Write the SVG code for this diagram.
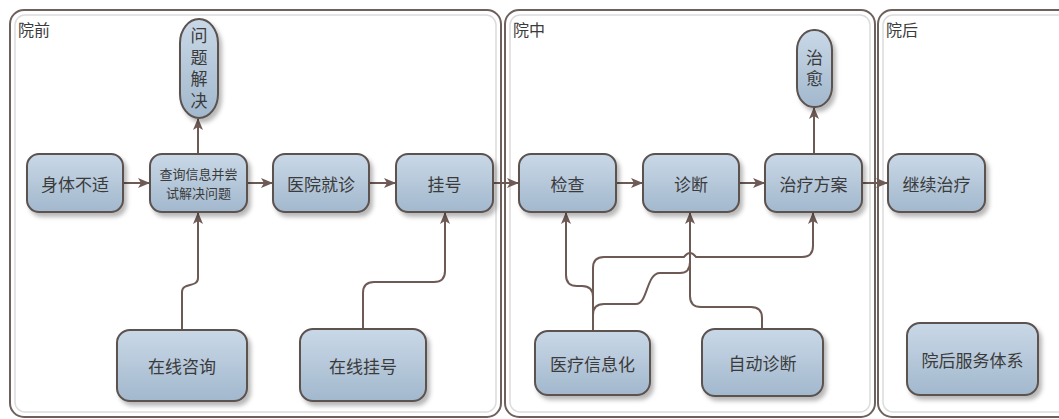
<svg xmlns="http://www.w3.org/2000/svg" width="1059" height="419" viewBox="0 0 1059 419">
<style>
.panel{fill:#ffffff;stroke:#6e605c;stroke-width:2}
.inner{fill:none;stroke:#dcdcdc;stroke-width:1.5}
.node rect{fill:url(#g);stroke:#5b5250;stroke-width:2;filter:url(#sh)}
.t{font-family:"Noto Sans CJK SC","Noto Sans",sans-serif;font-size:17px;fill:#3b3b3b;text-anchor:middle;dominant-baseline:central}
.small{font-size:13px}
.v{writing-mode:vertical-rl;letter-spacing:4.5px}
.plabel{font-family:"Noto Sans CJK SC","Noto Sans",sans-serif;font-size:16px;fill:#3b3b3b}
.c{fill:none;stroke:#6e5a55;stroke-width:2}
.c.a{marker-end:url(#ah)}
</style>
<defs>
<linearGradient id="g" x1="0" y1="0" x2="0" y2="1">
<stop offset="0" stop-color="#c9d8e7"/>
<stop offset="1" stop-color="#a2b8cd"/>
</linearGradient>
<filter id="sh" x="-20%" y="-20%" width="150%" height="150%">
<feDropShadow dx="3" dy="4" stdDeviation="2" flood-color="#000" flood-opacity="0.28"/>
</filter>
<marker id="ah" markerUnits="userSpaceOnUse" markerWidth="12" markerHeight="10" refX="11" refY="5" orient="auto">
<path d="M0,0 L12,5 L0,10 L3,5 z" fill="#6e5a55"/>
</marker>
</defs>

<g id="panel-pre">
<rect class="panel" x="10" y="10" width="491" height="407" rx="14"/>
<rect class="inner" x="15" y="15" width="481" height="397" rx="10"/>
<text class="plabel" x="18" y="36">院前</text>
</g>
<g id="panel-in">
<rect class="panel" x="505" y="10" width="370" height="407" rx="14"/>
<rect class="inner" x="510" y="15" width="360" height="397" rx="10"/>
<text class="plabel" x="513" y="36">院中</text>
</g>
<g id="panel-post">
<rect class="panel" x="878" y="10" width="200" height="407" rx="14"/>
<rect class="inner" x="883" y="15" width="190" height="397" rx="10"/>
<text class="plabel" x="886" y="36">院后</text>
</g>

<g id="connectors">
<path class="c a" d="M123,183 H149"/>
<path class="c a" d="M247,183 H272"/>
<path class="c a" d="M369,183 H395"/>
<path class="c a" d="M493,183 H518"/>
<path class="c a" d="M616,183 H642"/>
<path class="c a" d="M739,183 H764"/>
<path class="c a" d="M862,183 H887"/>
<path class="c a" d="M198,154 V119"/>
<path class="c a" d="M814,154 V108"/>
<path class="c a" d="M182,330 V292 C182,282 198,288 198,278 V213"/>
<path class="c a" d="M363,330 V293 Q363,282 374,282 H434 Q445,282 445,271 V213"/>
<path class="c a" d="M593,331 V297 Q593,286 582,286 H577 Q566,286 566,275 V213"/>
<path class="c a" d="M593,331 V268 Q593,257 604,257 H684 Q690,249 696,257 H802 Q813,257 813,246 V213"/>
<path class="c" d="M593,331 V315 Q593,304 604,304 H636 C648,304 646,273 660,273 H680 Q690,273 690,262 V230"/>
<path class="c a" d="M762,329 V318 Q762,307 751,307 H701 Q690,307 690,296 V213"/>
</g>

<g id="n-shenti" class="node"><rect x="27" y="154" width="96" height="58" rx="12"/><text class="t" x="75" y="183">身体不适</text></g>
<g id="n-chaxun" class="node"><rect x="150" y="154" width="97" height="58" rx="12"/><text class="t small" x="198.5" y="173">查询信息并尝</text><text class="t small" x="198.5" y="192">试解决问题</text></g>
<g id="n-jiejue" class="node"><rect x="180" y="19" width="38" height="99" rx="19" ry="24"/><text class="t v" x="199" y="70.5">问题解决</text></g>
<g id="n-jiuzhen" class="node"><rect x="273" y="154" width="96" height="58" rx="12"/><text class="t" x="321" y="183">医院就诊</text></g>
<g id="n-guahao" class="node"><rect x="396" y="154" width="97" height="58" rx="12"/><text class="t" x="444.5" y="183">挂号</text></g>
<g id="n-zixun" class="node"><rect x="117" y="330" width="130" height="71" rx="13"/><text class="t" x="182" y="365.5">在线咨询</text></g>
<g id="n-zaixianguahao" class="node"><rect x="300" y="329" width="126" height="72" rx="13"/><text class="t" x="363" y="365">在线挂号</text></g>
<g id="n-jiancha" class="node"><rect x="519" y="154" width="97" height="58" rx="12"/><text class="t" x="567.5" y="183">检查</text></g>
<g id="n-zhenduan" class="node"><rect x="643" y="154" width="96" height="58" rx="12"/><text class="t" x="691" y="183">诊断</text></g>
<g id="n-fangan" class="node"><rect x="765" y="154" width="97" height="58" rx="12"/><text class="t" x="813.5" y="183">治疗方案</text></g>
<g id="n-zhiyu" class="node"><rect x="797" y="30" width="35" height="77" rx="17" ry="20"/><text class="t v" x="814.5" y="70.5">治愈</text></g>
<g id="n-xinxihua" class="node"><rect x="535" y="331" width="115" height="64" rx="13"/><text class="t" x="592.5" y="363">医疗信息化</text></g>
<g id="n-zidong" class="node"><rect x="702" y="329" width="121" height="67" rx="13"/><text class="t" x="762.5" y="362.5">自动诊断</text></g>
<g id="n-jixu" class="node"><rect x="888" y="154" width="97" height="58" rx="12"/><text class="t" x="936.5" y="183">继续治疗</text></g>
<g id="n-fuwu" class="node"><rect x="907" y="323" width="131" height="72" rx="13"/><text class="t" x="972.5" y="359">院后服务体系</text></g>
</svg>
